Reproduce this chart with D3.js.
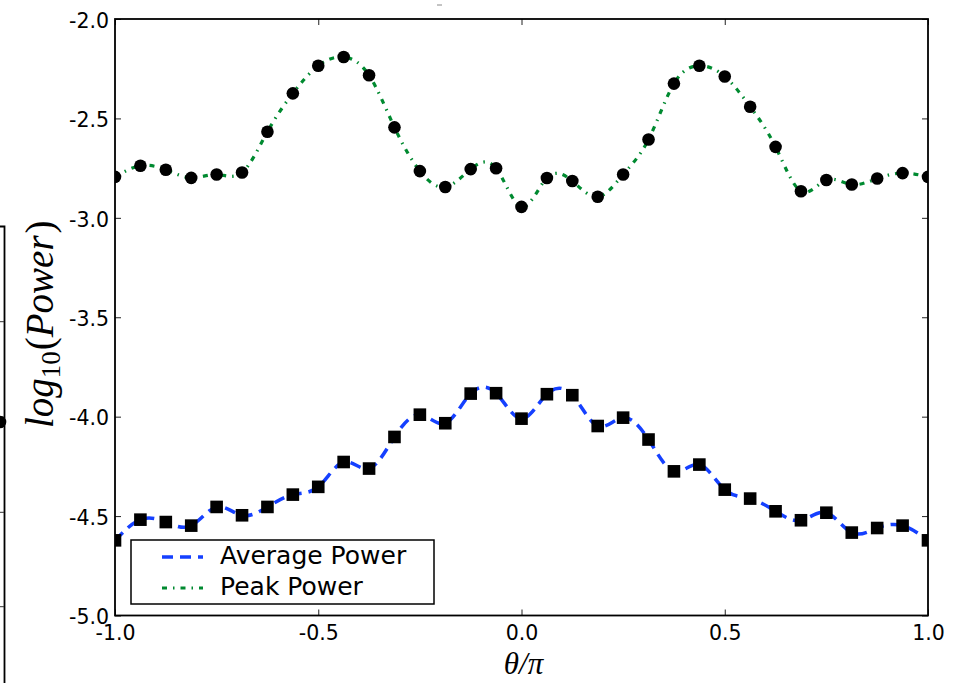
<!DOCTYPE html>
<html>
<head>
<meta charset="utf-8">
<script src="https://cdn.jsdelivr.net/npm/d3@7"></script>
<style>
  body { margin: 0; background: #fff; }
  svg { display: block; }
</style>
</head>
<body>
<div id="chart"></div>
<script>
// angle samples, theta / pi
const theta = [-1, -0.9375, -0.875, -0.8125, -0.75, -0.6875, -0.625, -0.5625, -0.5,
  -0.4375, -0.375, -0.3125, -0.25, -0.1875, -0.125, -0.0625, 0, 0.0625, 0.125,
  0.1875, 0.25, 0.3125, 0.375, 0.4375, 0.5, 0.5625, 0.625, 0.6875, 0.75, 0.8125,
  0.875, 0.9375, 1];

// log10 of average power (squares, blue dashed)
const avgPower = [-4.622, -4.518, -4.530, -4.548, -4.454, -4.496, -4.454, -4.392, -4.353,
  -4.228, -4.261, -4.102, -3.990, -4.033, -3.884, -3.882, -4.010, -3.887, -3.892,
  -4.047, -4.005, -4.115, -4.275, -4.241, -4.367, -4.412, -4.476, -4.521, -4.483,
  -4.583, -4.560, -4.548, -4.622];

// log10 of peak power (circles, green dash-dot)
const peakPower = [-2.794, -2.738, -2.758, -2.799, -2.782, -2.772, -2.567, -2.374, -2.235,
  -2.191, -2.283, -2.545, -2.765, -2.845, -2.755, -2.751, -2.945, -2.800, -2.815,
  -2.894, -2.782, -2.606, -2.325, -2.235, -2.289, -2.441, -2.643, -2.866, -2.810,
  -2.832, -2.802, -2.775, -2.794];

const xTicks = [-1.0, -0.5, 0.0, 0.5, 1.0];
const yTicks = [-5.0, -4.5, -4.0, -3.5, -3.0, -2.5, -2.0];
const seriesNames = ["Average Power", "Peak Power"];

const W = 960, H = 683;
const margin = { top: 19, right: 32, bottom: 67.5, left: 115 };
const width = W - margin.left - margin.right;
const height = H - margin.top - margin.bottom;

const svg = d3.select("#chart").append("svg")
  .attr("width", W)
  .attr("height", H);

// leftover edge of a neighbouring panel at the far left
const stray = svg.append("g");
stray.append("path")
  .attr("d", "M0,226.5 H4.5 V683")
  .attr("fill", "none")
  .attr("stroke", "#000")
  .attr("stroke-width", 1.8);
[321.7, 417, 512.3, 606.7].forEach(y => {
  stray.append("line").attr("x1", -2).attr("x2", 4).attr("y1", y).attr("y2", y)
    .attr("stroke", "#333").attr("stroke-width", 1);
});
stray.append("circle").attr("cx", 0).attr("cy", 422).attr("r", 6.3).attr("fill", "#000");
svg.append("line").attr("x1", 437).attr("x2", 442).attr("y1", 5).attr("y2", 5)
  .attr("stroke", "#888").attr("stroke-width", 1);

const g = svg.append("g")
  .attr("transform", `translate(${margin.left},${margin.top})`);

const x = d3.scaleLinear().domain([-1, 1]).range([0, width]);
const y = d3.scaleLinear().domain([-5, -2]).range([height, 0]);

g.append("clipPath").attr("id", "plot-clip")
  .append("rect").attr("width", width).attr("height", height);

const fmt = d => d.toFixed(1);

// axes, ticks pointing inwards
const styleAxis = sel => {
  sel.select(".domain").remove();
  sel.selectAll(".tick line").attr("stroke", "#222").attr("stroke-width", 1);
  sel.selectAll(".tick text")
    .attr("fill", "#000")
    .style("font-family", "'DejaVu Sans', sans-serif")
    .style("font-size", "20.5px");
};

g.append("g")
  .attr("transform", `translate(0,${height})`)
  .call(d3.axisBottom(x).tickValues(xTicks).tickFormat(fmt).tickSize(-6).tickPadding(10))
  .call(styleAxis);

g.append("g")
  .call(d3.axisTop(x).tickValues(xTicks).tickFormat("").tickSize(-6))
  .call(styleAxis);

g.append("g")
  .call(d3.axisLeft(y).tickValues(yTicks).tickFormat(fmt).tickSize(-6).tickPadding(6))
  .call(styleAxis)
  .selectAll(".tick text").attr("dy", "0.4em");

g.append("g")
  .attr("transform", `translate(${width},0)`)
  .call(d3.axisRight(y).tickValues(yTicks).tickFormat("").tickSize(-6))
  .call(styleAxis);

const plot = g.append("g").attr("clip-path", "url(#plot-clip)");

const line = d3.line()
  .x((d, i) => x(theta[i]))
  .y(d => y(d))
  .curve(d3.curveNatural);

plot.append("path")
  .datum(avgPower)
  .attr("d", line)
  .attr("fill", "none")
  .attr("stroke", "#1540ff")
  .attr("stroke-width", 3.5)
  .attr("stroke-dasharray", "11,7");

plot.append("path")
  .datum(peakPower)
  .attr("d", line)
  .attr("fill", "none")
  .attr("stroke", "#008a30")
  .attr("stroke-width", 3.2)
  .attr("stroke-dasharray", "5,6,1.5,6");

const sq = 12.6;
plot.selectAll("rect.avg")
  .data(avgPower)
  .join("rect")
  .attr("class", "avg")
  .attr("x", (d, i) => x(theta[i]) - sq / 2)
  .attr("y", d => y(d) - sq / 2)
  .attr("width", sq)
  .attr("height", sq)
  .attr("fill", "#000");

plot.selectAll("circle.peak")
  .data(peakPower)
  .join("circle")
  .attr("class", "peak")
  .attr("cx", (d, i) => x(theta[i]))
  .attr("cy", d => y(d))
  .attr("r", 6.3)
  .attr("fill", "#000");

// frame
g.append("rect")
  .attr("width", width)
  .attr("height", height)
  .attr("fill", "none")
  .attr("stroke", "#000")
  .attr("stroke-width", 1.8);

// axis labels
g.append("text")
  .attr("x", x(0) + 2)
  .attr("y", height + 58.5)
  .attr("text-anchor", "middle")
  .style("font-family", "'Liberation Serif', serif")
  .style("font-style", "italic")
  .style("font-size", "31px")
  .text("θ/π");

const ylab = svg.append("text")
  .attr("transform", `translate(53,${margin.top + height / 2 + 7}) rotate(-90)`)
  .attr("text-anchor", "middle")
  .style("font-family", "'Liberation Serif', serif")
  .style("font-size", "39px");
ylab.append("tspan").style("font-style", "italic").text("log");
ylab.append("tspan").attr("dy", 7).style("font-size", "27px").text("10");
ylab.append("tspan").attr("dy", -7).attr("dx", 1).text("(");
ylab.append("tspan").style("font-style", "italic").text("Power");
ylab.append("tspan").attr("dx", 2).text(")");

// legend
const leg = svg.append("g").attr("transform", "translate(131,540)");
leg.append("rect")
  .attr("width", 303)
  .attr("height", 64)
  .attr("fill", "#fff")
  .attr("stroke", "#000")
  .attr("stroke-width", 1.5);

const legendItems = [
  { name: seriesNames[0], color: "#1540ff", dash: "11,7", w: 3.5 },
  { name: seriesNames[1], color: "#008a30", dash: "5,6,1.5,6", w: 3.2 }
];
legendItems.forEach((it, i) => {
  const yy = 17 + i * 31;
  leg.append("line")
    .attr("x1", 31).attr("x2", 72)
    .attr("y1", yy).attr("y2", yy)
    .attr("stroke", it.color)
    .attr("stroke-width", it.w)
    .attr("stroke-dasharray", it.dash);
  leg.append("text")
    .attr("x", 89)
    .attr("y", yy + 6.5)
    .style("font-family", "'DejaVu Sans', sans-serif")
    .style("font-size", "25px")
    .attr("fill", "#000")
    .text(it.name);
});
</script>
</body>
</html>
